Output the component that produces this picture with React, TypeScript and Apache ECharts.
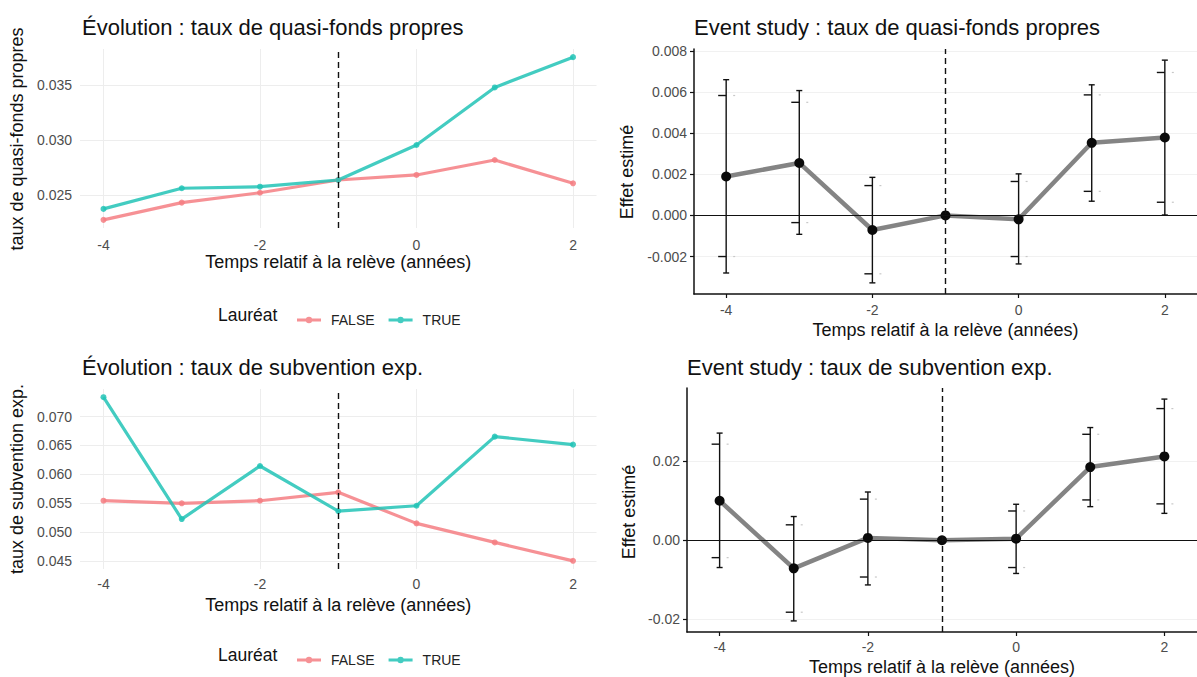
import React, { useEffect, useRef } from "react";
import * as echarts from "echarts";

// Relative time to the hand-over (years)
const years = [-4, -3, -2, -1, 0, 1, 2];
const reformYear = -1;

// Evolution of the group means
const qfpFalse = [0.02273, 0.0243, 0.0252, 0.02636, 0.02682, 0.02818, 0.02606];
const qfpTrue = [0.02373, 0.02561, 0.02575, 0.02636, 0.02955, 0.03479, 0.03755];
const subFalse = [0.05542, 0.05497, 0.05542, 0.05688, 0.05149, 0.04819, 0.045];
const subTrue = [0.07337, 0.05224, 0.06144, 0.05363, 0.05455, 0.06653, 0.06514];

// Event-study coefficients with 95% and 90% intervals (reference year has none)
const qfpEst = [0.00189, 0.00255, -0.00071, 0, -0.00019, 0.00353, 0.00379];
const qfpLo95 = [-0.0028, -0.00092, -0.00328, null, -0.00236, 0.00069, 0.00002];
const qfpHi95 = [0.0066, 0.00607, 0.00185, null, 0.00202, 0.00635, 0.00755];
const qfpLo90 = [-0.002, -0.00035, -0.00284, null, -0.002, 0.00117, 0.00064];
const qfpHi90 = [0.00583, 0.0055, 0.00145, null, 0.00165, 0.00586, 0.00695];

const subEst = [0.01, -0.0071, 0.0006, 0, 0.0004, 0.0185, 0.0212];
const subLo95 = [-0.0069, -0.0204, -0.0113, null, -0.0084, 0.0085, 0.0068];
const subHi95 = [0.0271, 0.006, 0.0122, null, 0.0091, 0.0285, 0.0357];
const subLo90 = [-0.0044, -0.0182, -0.0093, null, -0.0069, 0.0102, 0.0092];
const subHi90 = [0.0243, 0.0039, 0.0104, null, 0.0074, 0.0268, 0.0333];

// Tick values
const xTicks = [-4, -2, 0, 2];
const qfpTicks = [0.025, 0.03, 0.035];
const subTicks = [0.045, 0.05, 0.055, 0.06, 0.065, 0.07];
const qfpEffTicks = [-0.002, 0, 0.002, 0.004, 0.006, 0.008];
const subEffTicks = [-0.02, 0, 0.02];

const legendNames = ["FALSE", "TRUE"];

const FONT = "'Liberation Sans', Arial, Helvetica, sans-serif";
const COL_FALSE = "#F57E83";
const COL_TRUE = "#22C3B6";

// Legend key: a short line with a dot in the middle (both drawn clockwise)
const KEY_ICON = "path://M0,5.5L24,5.5L24,8.5L0,8.5Z M8.8,7A3.2,3.2,0,1,1,15.2,7A3.2,3.2,0,1,1,8.8,7Z";

function padded(values: (number | null)[], frac = 0.05): [number, number] {
  const v = values.filter((d): d is number => d !== null);
  const lo = Math.min(...v);
  const hi = Math.max(...v);
  const p = (hi - lo) * frac;
  return [lo - p, hi + p];
}

function errorRows(lo95: (number | null)[], hi95: (number | null)[], lo90: (number | null)[], hi90: (number | null)[]) {
  const rows: number[][] = [];
  years.forEach((x, i) => {
    if (lo95[i] === null) return;
    rows.push([x, lo95[i] as number, hi95[i] as number, lo90[i] as number, hi90[i] as number]);
  });
  return rows;
}

const renderErrorBar = (params: any, api: any) => {
  const x = api.value(0);
  const a = api.coord([x, api.value(1)]);
  const b = api.coord([x, api.value(2)]);
  const c = api.coord([x, api.value(3)]);
  const d = api.coord([x, api.value(4)]);
  const dark = { stroke: "#111", lineWidth: 1.4 };
  const faint = { stroke: "#c8c8c8", lineWidth: 1.2 };
  const seg = (x1: number, y1: number, x2: number, y2: number, style: any) => ({
    type: "line",
    shape: { x1, y1, x2, y2 },
    style,
  });
  return {
    type: "group",
    children: [
      seg(a[0], a[1], b[0], b[1], dark),
      seg(a[0] - 3, a[1], a[0] + 3, a[1], dark),
      seg(b[0] - 3, b[1], b[0] + 3, b[1], dark),
      seg(c[0] - 8, c[1], c[0], c[1], dark),
      seg(d[0] - 8, d[1], d[0], d[1], dark),
      seg(c[0] + 7, c[1], c[0] + 9, c[1], faint),
      seg(d[0] + 7, d[1], d[0] + 9, d[1], faint),
    ],
  };
};

const pairs = (vals: number[]) => years.map((x, i) => [x, vals[i]]);

const fmt3 = (v: number) => v.toFixed(3);
const fmt2 = (v: number) => v.toFixed(2);

export default function App() {
  const ref = useRef<HTMLDivElement>(null);

  useEffect(() => {
    if (!ref.current) return;
    const chart = echarts.init(ref.current, undefined, { renderer: "svg" });

    const qfpRange = padded([...qfpFalse, ...qfpTrue]);
    const subRange = padded([...subFalse, ...subTrue]);
    const qfpEffRange = padded([...qfpLo95, ...qfpHi95, ...qfpEst]);
    const subEffRange = padded([...subLo95, ...subHi95, ...subEst]);
    const xLeft = padded(years);
    const xRight: [number, number] = [-4.44, 2.44];

    const tickLabel = { color: "#4D4D4D", fontSize: 14, fontFamily: FONT };

    const xAxisBase = (grid: number, range: [number, number], classic: boolean, gap: number, margin: number) => ({
      type: "value",
      gridIndex: grid,
      min: range[0],
      max: range[1],
      name: "Temps relatif à la relève (années)",
      nameLocation: "middle",
      nameGap: gap,
      nameTextStyle: { color: "#111", fontSize: 18, fontFamily: FONT },
      axisLine: { show: classic, onZero: false, lineStyle: { color: "#111", width: 1.5 } },
      axisTick: { show: classic, customValues: xTicks, length: 4, lineStyle: { color: "#111", width: 1.2 } },
      axisLabel: { ...tickLabel, margin, customValues: xTicks, formatter: (v: number) => String(v) },
      splitLine: { show: !classic, lineStyle: { color: "#EDEDED", width: 1 } },
    });

    const yAxisBase = (grid: number, range: [number, number], ticks: number[], classic: boolean, f: (v: number) => string) => ({
      type: "value",
      gridIndex: grid,
      min: range[0],
      max: range[1],
      axisLine: { show: classic, onZero: false, lineStyle: { color: "#111", width: 1.5 } },
      axisTick: { show: classic, customValues: ticks, length: 4, lineStyle: { color: "#111", width: 1.2 } },
      axisLabel: { ...tickLabel, margin: classic ? 7 : 8, customValues: ticks, formatter: f },
      splitLine: { show: true, lineStyle: { color: classic ? "#F1F1F1" : "#EDEDED", width: 1 } },
    });

    const dashedAt = {
      silent: true,
      symbol: "none",
      label: { show: false },
      lineStyle: { color: "#111", type: [6, 4], width: 1.4 },
      data: [{ xAxis: reformYear }],
    };

    const zeroAndDashed = {
      silent: true,
      symbol: "none",
      label: { show: false },
      data: [
        { yAxis: 0, lineStyle: { color: "#111", type: "solid", width: 1.2 } },
        { xAxis: reformYear, lineStyle: { color: "#111", type: [6, 4], width: 1.4 } },
      ],
    };

    const groupLine = (name: string, color: string, vals: number[], idx: number, withMark: boolean) => ({
      type: "line",
      name,
      xAxisIndex: idx,
      yAxisIndex: idx,
      data: pairs(vals),
      symbol: "circle",
      symbolSize: 6,
      lineStyle: { color, width: 3.2, opacity: 0.85 },
      itemStyle: { color, opacity: 0.85 },
      z: 3,
      ...(withMark ? { markLine: dashedAt } : {}),
    });

    const estimateSeries = (vals: number[], idx: number) => ({
      type: "line",
      name: "Effet",
      xAxisIndex: idx,
      yAxisIndex: idx,
      data: pairs(vals),
      symbol: "circle",
      symbolSize: 10,
      lineStyle: { color: "#6E6E6E", width: 4.5, opacity: 0.85 },
      itemStyle: { color: "#0A0A0A" },
      z: 4,
      markLine: zeroAndDashed,
    });

    const barSeries = (rows: number[][], idx: number) => ({
      type: "custom",
      name: "IC",
      xAxisIndex: idx,
      yAxisIndex: idx,
      data: rows,
      encode: { x: 0, y: [1, 2, 3, 4] },
      renderItem: renderErrorBar,
      z: 2,
    });

    const legendBase = (top: number) => ({
      data: legendNames.map((name) => ({ name, icon: KEY_ICON })),
      top,
      left: 292,
      itemWidth: 24,
      itemHeight: 14,
      itemGap: 14,
      selectedMode: false,
      textStyle: { color: "#222", fontSize: 14, fontFamily: FONT, padding: [0, 0, 0, 5] },
    });

    const titleBase = (text: string, left: number, top: number) => ({
      text,
      left,
      top,
      padding: 0,
      textStyle: { color: "#111", fontSize: 22, fontWeight: "normal", fontFamily: FONT },
    });

    const yTitle = (text: string, x: number, y: number) => ({
      type: "text",
      x,
      y,
      rotation: Math.PI / 2,
      style: {
        text,
        fill: "#111",
        fontSize: 18,
        fontFamily: FONT,
        align: "center",
        verticalAlign: "middle",
      },
    });

    const legendTitle = (y: number) => ({
      type: "text",
      x: 218,
      y,
      style: { text: "Lauréat", fill: "#111", fontSize: 17.5, fontFamily: FONT, verticalAlign: "middle" },
    });

    chart.setOption({
      animation: false,
      backgroundColor: "#ffffff",
      textStyle: { fontFamily: FONT },
      title: [
        titleBase("Évolution : taux de quasi-fonds propres", 82, 16),
        titleBase("Event study : taux de quasi-fonds propres", 694, 16),
        titleBase("Évolution : taux de subvention exp.", 82, 356),
        titleBase("Event study : taux de subvention exp.", 687, 356),
      ],
      legend: [legendBase(308), legendBase(648)],
      grid: [
        { left: 80, top: 49, width: 516.5, height: 179 },
        { left: 694, top: 49, width: 511, height: 245 },
        { left: 80, top: 389, width: 516.5, height: 180 },
        { left: 687, top: 388, width: 518, height: 247 },
      ],
      xAxis: [
        xAxisBase(0, xLeft, false, 25, 10),
        xAxisBase(1, xRight, true, 27, 9),
        xAxisBase(2, xLeft, false, 27, 8),
        xAxisBase(3, xRight, true, 26, 8),
      ],
      yAxis: [
        yAxisBase(0, qfpRange, qfpTicks, false, fmt3),
        yAxisBase(1, qfpEffRange, qfpEffTicks, true, fmt3),
        yAxisBase(2, subRange, subTicks, false, fmt3),
        yAxisBase(3, subEffRange, subEffTicks, true, fmt2),
      ],
      graphic: [
        yTitle("taux de quasi-fonds propres", 17, 139),
        yTitle("Effet estimé", 627, 172),
        yTitle("taux de subvention exp.", 17, 479),
        yTitle("Effet estimé", 629, 512),
        legendTitle(315),
        legendTitle(655),
      ],
      series: [
        groupLine("FALSE", COL_FALSE, qfpFalse, 0, true),
        groupLine("TRUE", COL_TRUE, qfpTrue, 0, false),
        barSeries(errorRows(qfpLo95, qfpHi95, qfpLo90, qfpHi90), 1),
        estimateSeries(qfpEst, 1),
        groupLine("FALSE", COL_FALSE, subFalse, 2, true),
        groupLine("TRUE", COL_TRUE, subTrue, 2, false),
        barSeries(errorRows(subLo95, subHi95, subLo90, subHi90), 3),
        estimateSeries(subEst, 3),
      ],
    });

    return () => chart.dispose();
  }, []);

  return (
    <div
      ref={ref}
      style={{ position: "absolute", left: 0, top: 0, width: 1197, height: 677, background: "#fff" }}
    />
  );
}
